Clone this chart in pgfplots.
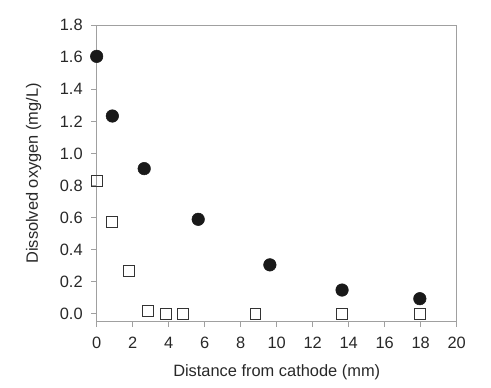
\documentclass[border=0pt]{standalone}
\usepackage{pgfplots}
\pgfplotsset{compat=1.18}
\usepackage{fontspec}
\setmainfont{Liberation Sans}
\definecolor{axgray}{RGB}{160,160,160}
\definecolor{txt}{RGB}{40,40,40}
\begin{document}
\begin{tikzpicture}
\useasboundingbox (-72.5pt,-49pt) rectangle (295.7pt,241.3pt);
\begin{axis}[
  at={(0,0)}, anchor=south west,
  scale only axis,
  width=270pt, height=222.5pt,
  xmin=0, xmax=20, ymin=-0.05, ymax=1.8,
  xtick={0,2,...,20},
  ytick={0,0.2,...,1.8},
  yticklabel style={/pgf/number format/fixed, /pgf/number format/fixed zerofill, /pgf/number format/precision=1, xshift=-3pt},
  /pgf/number format/assume math mode=true,
  tick align=outside,
  xtick pos=bottom, ytick pos=left,
  major tick length=4pt,
  axis line style={axgray, line width=0.8pt},
  every tick/.style={axgray, line width=0.8pt},
  tick label style={font=\fontsize{12.3}{14}\selectfont, text=txt},
  label style={font=\fontsize{12.3}{14}\selectfont, text=txt},
  xticklabel style={yshift=-4pt},
  xlabel={Distance from cathode (mm)},
  ylabel={Dissolved oxygen (mg/L)},
  xlabel style={yshift=-5pt},
  ylabel style={yshift=7pt},
  clip=false,
]
\addplot[only marks, mark=*, mark size=4.7pt, mark options={fill=black!90, draw=black!90}]
  coordinates {(0,1.605) (0.87,1.233) (2.64,0.905) (5.64,0.589) (9.62,0.305) (13.63,0.148) (17.95,0.094)};
\addplot[only marks, mark=square, mark size=4.1pt, mark options={draw=black!80, fill=white, line width=0.7pt}]
  coordinates {(0,0.83) (0.84,0.573) (1.81,0.264) (2.83,0.02) (3.83,0.0) (4.81,0.0) (8.82,0.0) (13.63,0.0) (17.95,0.0)};
\end{axis}
\end{tikzpicture}
\end{document}
